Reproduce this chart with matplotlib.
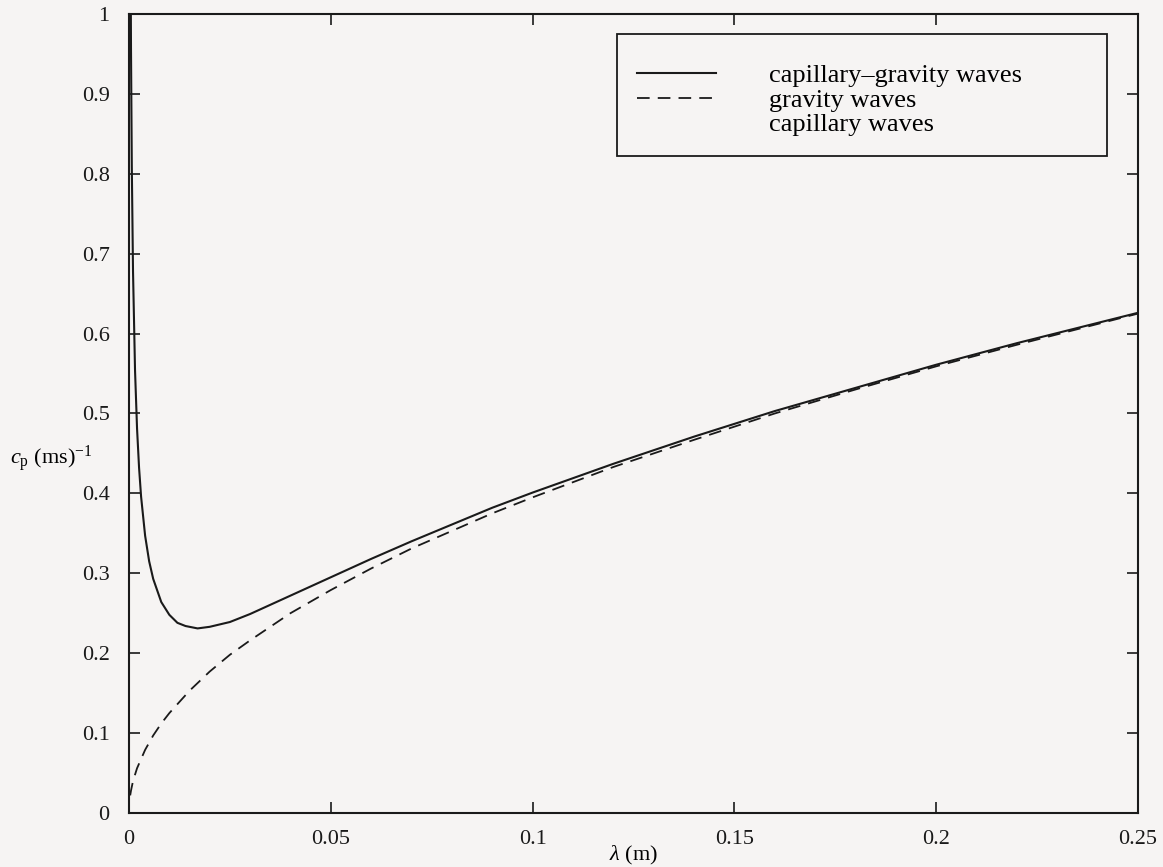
import matplotlib
matplotlib.use("Agg")
import matplotlib.pyplot as plt
from matplotlib.lines import Line2D

plt.rcParams['font.family'] = ['Liberation Serif', 'DejaVu Serif']
plt.rcParams['mathtext.fontset'] = 'custom'
plt.rcParams['mathtext.rm'] = 'Liberation Serif'
plt.rcParams['mathtext.it'] = 'Liberation Serif:italic'

# wavelength (m) and phase speed values
lam_cg = [0.00045, 0.0005, 0.0007, 0.001, 0.0015, 0.002, 0.0025, 0.003, 0.004,
          0.005, 0.006, 0.008, 0.010, 0.012, 0.014, 0.017, 0.020, 0.025, 0.030,
          0.04, 0.05, 0.06, 0.07, 0.08, 0.09, 0.10, 0.12, 0.14, 0.16, 0.18,
          0.20, 0.22, 0.25]
c_cg = [1.016, 0.957, 0.809, 0.678, 0.554, 0.481, 0.432, 0.396, 0.347,
        0.315, 0.293, 0.264, 0.248, 0.238, 0.234, 0.231, 0.233, 0.239, 0.249,
        0.272, 0.295, 0.318, 0.340, 0.361, 0.382, 0.401, 0.437, 0.471, 0.503,
        0.532, 0.561, 0.588, 0.626]

lam_g = [0.0003, 0.0005, 0.001, 0.002, 0.004, 0.006, 0.008, 0.010, 0.015,
         0.020, 0.025, 0.030, 0.04, 0.05, 0.06, 0.07, 0.08, 0.09, 0.10, 0.12,
         0.14, 0.16, 0.18, 0.20, 0.22, 0.25]
c_g = [0.022, 0.028, 0.040, 0.056, 0.079, 0.097, 0.112, 0.125, 0.153,
       0.177, 0.198, 0.216, 0.250, 0.279, 0.306, 0.331, 0.353, 0.375, 0.395,
       0.433, 0.467, 0.500, 0.530, 0.559, 0.586, 0.625]

labels = ['capillary\u2013gravity waves', 'gravity waves', 'capillary waves']
xticks = [0, 0.05, 0.1, 0.15, 0.2, 0.25]
xticklabels = ['0', '0.05', '0.1', '0.15', '0.2', '0.25']
yticks = [0, 0.1, 0.2, 0.3, 0.4, 0.5, 0.6, 0.7, 0.8, 0.9, 1]
yticklabels = ['0', '0.1', '0.2', '0.3', '0.4', '0.5', '0.6', '0.7', '0.8', '0.9', '1']

bg = '#f6f4f3'
fig = plt.figure(figsize=(11.63, 8.67), dpi=100, facecolor=bg)
ax = fig.add_axes([0.1109, 0.0623, 0.8676, 0.9216], facecolor=bg)

l1, = ax.plot(lam_cg, c_cg, color='#1a1a1a', lw=1.5, ls='-')
l2, = ax.plot(lam_g, c_g, color='#1a1a1a', lw=1.3, ls=(0, (7, 4.5)))
l3 = Line2D([], [], linestyle='none')

ax.set_xlim(0, 0.25)
ax.set_ylim(0, 1)
ax.set_xticks(xticks)
ax.set_xticklabels(xticklabels)
ax.set_yticks(yticks)
ax.set_yticklabels(yticklabels)
ax.tick_params(direction='in', length=8, width=1.2, labelsize=16,
               top=True, right=True, colors='#1a1a1a')
ax.tick_params(axis='y', pad=14)
ax.tick_params(axis='x', pad=12)
for s in ax.spines.values():
    s.set_linewidth(1.5)
    s.set_color('#1a1a1a')

ax.set_xlabel(r'$\lambda$ (m)', fontsize=16)
ax.xaxis.set_label_coords(0.50, -0.039)
ax.xaxis.label.set_verticalalignment('top')
ax.set_ylabel(r'$c_{\rm p}$ (ms)$^{-1}$', fontsize=16, rotation=0)
ax.yaxis.set_label_coords(-0.077, 0.443)
ax.yaxis.label.set_horizontalalignment('center')
ax.yaxis.label.set_verticalalignment('center')

leg = ax.legend([l1, l2, l3], labels, loc='upper left',
                bbox_to_anchor=(0.4836, 0.821, 0.4856, 0.154), mode='expand',
                fontsize=19, frameon=True, fancybox=False, framealpha=1,
                edgecolor='#1a1a1a', facecolor=bg, handlelength=3.0,
                handletextpad=2.0, labelspacing=0.04, borderpad=0.75,
                borderaxespad=0, title=' ', title_fontsize=7)
leg.get_frame().set_linewidth(1.3)

fig.savefig('out.png', dpi=100, facecolor=bg)
